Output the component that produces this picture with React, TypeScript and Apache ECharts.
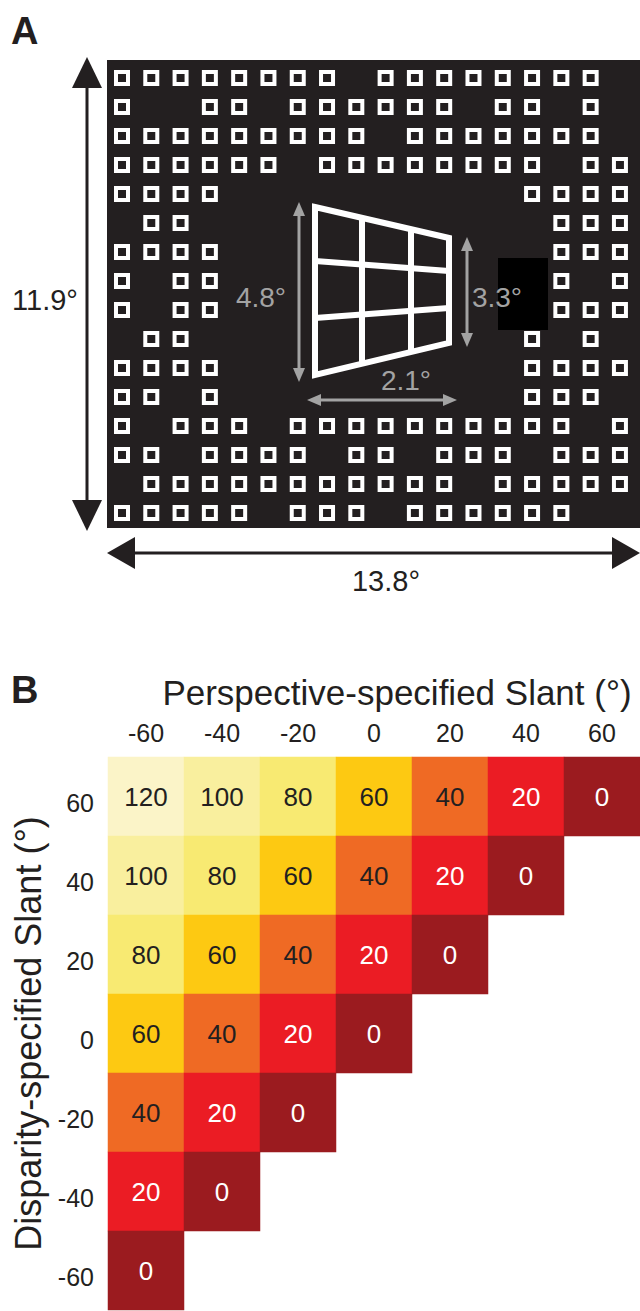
import React, { useEffect, useRef } from 'react';
import * as echarts from 'echarts';

// ---------- Panel A: stimulus texture (1 = square present) ----------
const patternRows: string[] = [
  '111111110111111110',
  '100110111111011010',
  '111111111011111110',
  '111111011111111011',
  '111100000000001111',
  '011000000000000111',
  '111100000000000111',
  '101100000000000101',
  '101100000000000111',
  '011000000000001010',
  '111100000000001111',
  '110100000000001110',
  '101110111111111101',
  '110111101101110111',
  '011111111111011111',
  '111110111011111100',
];
const dimensionLabels = { height: '11.9°', width: '13.8°', left: '4.8°', right: '3.3°', depth: '2.1°' };

// ---------- Panel B: cue-conflict matrix ----------
const perspectiveLabels = ['-60', '-40', '-20', '0', '20', '40', '60'];
const disparityLabels = ['60', '40', '20', '0', '-20', '-40', '-60'];
const conflictRows: number[][] = [
  [120, 100, 80, 60, 40, 20, 0],
  [100, 80, 60, 40, 20, 0],
  [80, 60, 40, 20, 0],
  [60, 40, 20, 0],
  [40, 20, 0],
  [20, 0],
  [0],
];
const levelValues = [0, 20, 40, 60, 80, 100, 120];
const levelColors = ['#9b1b1f', '#eb1c24', '#ef6a24', '#fdc912', '#f8ea72', '#f9ef9e', '#fbf4c8'];

const BLACK = '#231f20';
const GRAY = '#a3a3a3';
const FONT = '"Liberation Sans", Arial, Helvetica, sans-serif';

function txt(text: string, x: number, y: number, size: number, color: string, bold = false, align = 'center') {
  return {
    type: 'text',
    z: 100,
    style: {
      text, x, y,
      font: `${bold ? 'bold ' : ''}${size}px ${FONT}`,
      fill: color,
      align, verticalAlign: 'middle',
      textAlign: align, textVerticalAlign: 'middle',
    },
  };
}

function vArrow(x: number, y1: number, y2: number, head: number, hw: number, color: string, lw: number) {
  return [
    { type: 'line', z: 100, shape: { x1: x, y1: y1 + head - 2, x2: x, y2: y2 - head + 2 }, style: { stroke: color, lineWidth: lw } },
    { type: 'polygon', z: 100, shape: { points: [[x, y1], [x - hw, y1 + head], [x + hw, y1 + head]] }, style: { fill: color } },
    { type: 'polygon', z: 100, shape: { points: [[x, y2], [x - hw, y2 - head], [x + hw, y2 - head]] }, style: { fill: color } },
  ];
}

function hArrow(y: number, x1: number, x2: number, head: number, hw: number, color: string, lw: number) {
  return [
    { type: 'line', z: 100, shape: { x1: x1 + head - 2, y1: y, x2: x2 - head + 2, y2: y }, style: { stroke: color, lineWidth: lw } },
    { type: 'polygon', z: 100, shape: { points: [[x1, y], [x1 + head, y - hw], [x1 + head, y + hw]] }, style: { fill: color } },
    { type: 'polygon', z: 100, shape: { points: [[x2, y], [x2 - head, y - hw], [x2 - head, y + hw]] }, style: { fill: color } },
  ];
}

export default function App() {
  const ref = useRef<HTMLDivElement>(null);

  useEffect(() => {
    if (!ref.current) return;
    const chart = echarts.init(ref.current, undefined, { renderer: 'svg' });

    const squares: number[][] = [];
    patternRows.forEach((row, r) => {
      row.split('').forEach((ch, c) => {
        if (ch === '1') squares.push([c, r]);
      });
    });

    const cells: any[] = [];
    conflictRows.forEach((row, r) => {
      row.forEach((v, c) => {
        cells.push({ value: [c, r, v], label: { color: v <= 20 ? '#ffffff' : BLACK } });
      });
    });

    const white = '#ffffff';
    const trap = [
      { type: 'polygon', z: 100, shape: { points: [[315, 207], [449, 238], [449, 343], [315, 375]] }, style: { fill: 'none', stroke: white, lineWidth: 6, lineJoin: 'miter' } },
      { type: 'line', z: 100, shape: { x1: 362, y1: 218, x2: 362, y2: 364 }, style: { stroke: white, lineWidth: 6 } },
      { type: 'line', z: 100, shape: { x1: 411, y1: 229, x2: 411, y2: 352 }, style: { stroke: white, lineWidth: 6 } },
      { type: 'line', z: 100, shape: { x1: 315, y1: 261, x2: 449, y2: 271 }, style: { stroke: white, lineWidth: 6 } },
      { type: 'line', z: 100, shape: { x1: 315, y1: 318, x2: 449, y2: 308 }, style: { stroke: white, lineWidth: 6 } },
    ];

    const graphic: any[] = [
      txt('A', 11, 31, 38, BLACK, true, 'left'),
      txt('B', 11, 690, 38, BLACK, true, 'left'),
      { type: 'rect', z: 100, shape: { x: 498, y: 258, width: 50, height: 72 }, style: { fill: '#000000' } },
      ...trap,
      ...vArrow(87, 57, 531, 31, 15, BLACK, 3),
      ...hArrow(553, 107, 640, 28, 16, BLACK, 3),
      ...vArrow(299, 202, 382, 14, 6, GRAY, 3),
      ...vArrow(467, 237, 347, 14, 6, GRAY, 3),
      ...hArrow(400, 307, 457, 14, 6, GRAY, 3),
      txt(dimensionLabels.height, 45, 300, 29, BLACK),
      txt(dimensionLabels.width, 386, 581, 29, BLACK),
      txt(dimensionLabels.left, 261, 297, 28, GRAY),
      txt(dimensionLabels.right, 497, 297, 28, GRAY),
      txt(dimensionLabels.depth, 406, 380, 28, GRAY),
    ];

    const option: any = {
      animation: false,
      backgroundColor: '#ffffff',
      textStyle: { fontFamily: FONT },
      grid: [
        { left: 107, top: 60, width: 533, height: 468, show: true, backgroundColor: BLACK, borderWidth: 0 },
        { left: 108, top: 757, width: 532, height: 553 },
      ],
      xAxis: [
        { gridIndex: 0, type: 'value', min: -0.512, max: 17.685, show: false },
        {
          gridIndex: 1, type: 'category', position: 'top', data: perspectiveLabels,
          axisLine: { show: false }, axisTick: { show: false }, splitLine: { show: false },
          axisLabel: { fontSize: 25, color: BLACK, margin: 12, fontFamily: FONT },
          name: 'Perspective-specified Slant (°)', nameLocation: 'middle', nameGap: 47,
          nameTextStyle: { fontSize: 35, color: BLACK, fontFamily: FONT, padding: [0, 0, 0, 46] },
        },
      ],
      yAxis: [
        { gridIndex: 0, type: 'value', min: -0.62, max: 15.52, inverse: true, show: false },
        {
          gridIndex: 1, type: 'category', inverse: true, data: disparityLabels,
          axisLine: { show: false }, axisTick: { show: false }, splitLine: { show: false },
          axisLabel: { fontSize: 25, color: BLACK, margin: 14, fontFamily: FONT, lineHeight: 13, verticalAlign: 'top' },
          name: 'Disparity-specified Slant (°)', nameLocation: 'middle', nameGap: 57, nameRotate: 90,
          nameTextStyle: { fontSize: 36, color: BLACK, fontFamily: FONT },
        },
      ],
      visualMap: {
        type: 'piecewise', show: false, seriesIndex: 1, dimension: 2,
        pieces: levelValues.map((v, i) => ({ value: v, color: levelColors[i] })),
      },
      series: [
        {
          type: 'scatter', xAxisIndex: 0, yAxisIndex: 0, data: squares, silent: true,
          symbol: 'rect', symbolSize: 12,
          itemStyle: { color: BLACK, borderColor: '#ffffff', borderWidth: 4, opacity: 1 },
        },
        {
          type: 'heatmap', xAxisIndex: 1, yAxisIndex: 1, data: cells, silent: true,
          itemStyle: { borderWidth: 0 },
          label: {
            show: true, fontSize: 26, fontFamily: FONT,
            formatter: (p: any) => String(p.value[2]),
          },
        },
      ],
      graphic,
    };

    chart.setOption(option);
    return () => chart.dispose();
  }, []);

  return (
    <div
      ref={ref}
      style={{ position: 'absolute', left: 0, top: 0, width: 640, height: 1311, background: '#fff' }}
    />
  );
}
